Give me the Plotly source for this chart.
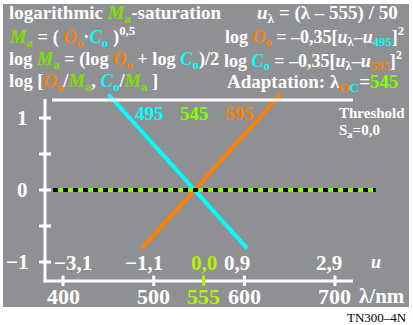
import plotly.graph_objects as go

# ---- data ----
lam_cyan = [450, 603]          # nm
log_cyan = [1.33, -0.81]       # log [C_o/M_a]
lam_orange = [487, 640]
log_orange = [-0.81, 1.33]     # log [O_o/M_a]
lam_thresh = [389, 745]
log_thresh = [0, 0]

y_ticks = [1, 0.5, 0, -0.5, -1]
y_tick_text = ["1", "", "0", "", "−1"]
lam_ticks = [400, 500, 555, 600, 700]
lam_tick_text = ["400", "500", "555", "600", "700"]
u_tick_text = ["−3,1", "−1,1", "0,0", "0,9", "2,9"]
u_label_shift = [10, -10, 0, -7, -6]
curve_lams = [495, 545, 595]
curve_text = ["495", "545", "595"]

W, H = 413, 325
GRAY = "rgb(143,144,147)"
CYAN = "#00ffff"
ORANGE = "#ff8000"
GREEN = "#7fe000"
LIME = "#80ff00"
YG = "#b8f000"
FONT = "Liberation Serif"

# pixel mapping of data axes (plot spans whole figure)
X0, KX = 63.0, 0.9065     # px of 400 nm, px per nm
Y0, KY = 190.0, 72.0      # px of 0, px per unit
xr = [400 - X0 / KX, 400 + (W - X0) / KX]
yr = [-(H - Y0) / KY, Y0 / KY]

def lam(px):
    return 400 + (px - X0) / KX

def yv(py):
    return (Y0 - py) / KY

fig = go.Figure()

fig.add_trace(go.Scatter(x=lam_orange, y=log_orange, mode="lines",
                         line=dict(color=ORANGE, width=4), hoverinfo="skip"))
fig.add_trace(go.Scatter(x=lam_cyan, y=log_cyan, mode="lines",
                         line=dict(color=CYAN, width=4), hoverinfo="skip"))
fig.add_trace(go.Scatter(x=lam_thresh, y=log_thresh, mode="lines",
                         line=dict(color="black", width=4), hoverinfo="skip"))
fig.add_trace(go.Scatter(x=lam_thresh, y=log_thresh, mode="lines",
                         line=dict(color=LIME, width=4, dash="0px,5px,5px,0px"),
                         hoverinfo="skip"))

shapes = []
# gray background
shapes.append(dict(type="rect", xref="paper", yref="paper", layer="below",
                   x0=3 / W, x1=409 / W, y0=1 - 307 / H, y1=1 - 4 / H,
                   fillcolor=GRAY, line=dict(width=0)))
WL = dict(color="white", width=3)
# frame lines
shapes.append(dict(type="line", xref="x", yref="y", x0=lam(45), x1=lam(45),
                   y0=yv(99), y1=yv(282.5), line=WL))
shapes.append(dict(type="line", xref="x", yref="y", x0=lam(52), x1=lam(353),
                   y0=yv(100), y1=yv(100), line=WL))
shapes.append(dict(type="line", xref="x", yref="y", x0=lam(43.5), x1=lam(353),
                   y0=yv(281), y1=yv(281), line=WL))
for t in y_ticks:
    shapes.append(dict(type="line", xref="x", yref="y", x0=lam(39), x1=lam(51),
                       y0=t, y1=t, line=WL))
for t in lam_ticks:
    c = YG if t == 555 else "white"
    shapes.append(dict(type="line", xref="x", yref="y", x0=t, x1=t,
                       y0=yv(275.5), y1=yv(286), line=dict(color=c, width=3)))

ann = []

def add(text, x, y, size=19, color="white", xanchor="left", xref="paper",
        yref="paper", xshift=0, yanchor="middle"):
    ann.append(dict(text=text, x=x, y=y, xref=xref, yref=yref, showarrow=False,
                    xanchor=xanchor, yanchor=yanchor, xshift=xshift,
                    font=dict(family=FONT, size=size, color=color)))

def sp(c, t):
    return f"<span style='color:{c}'>{t}</span>"

Ma = sp(GREEN, "<i>M</i><sub>a</sub>")
Oo = sp(ORANGE, "<i>O</i><sub>o</sub>")
Co = sp(CYAN, "<i>C</i><sub>o</sub>")

def P(px, py):
    return px / W, 1 - py / H

lines_left = [
    (f"<b>logarithmic {Ma}-saturation</b>", 7, 14, 19),
    (f"<b>{Ma} = ( {Oo}·{Co} )<sup>0,5</sup></b>", 7, 37, 18.5),
    (f"<b>log {Ma} = (log {Oo} + log {Co})/2</b>", 7, 60, 18.3),
    (f"<b>log [{Oo}/{Ma}, {Co}/{Ma} ]</b>", 7, 83, 18.5),
]
for t, px, py, fs in lines_left:
    x, y = P(px, py)
    add(t, x, y, size=fs)

lines_right = [
    ("<b><i>u</i><sub>λ</sub> = (λ – 555) / 50</b>", 255, 14, 19),
    (f"<b>log {Oo} = –0,35[<i>u</i><sub>λ</sub>–<i>u</i><sub>{sp(CYAN, '495')}</sub>]<sup>2</sup></b>", 223, 37, 18),
    (f"<b>log {Co} = –0,35[<i>u</i><sub>λ</sub>–<i>u</i><sub>{sp(ORANGE, '595')}</sub>]<sup>2</sup></b>", 222, 60, 18),
    (f"<b>Adaptation: λ<sub>{sp(ORANGE, 'O')}{sp(CYAN, 'C')}</sub>={sp(LIME, '545')}</b>", 225, 83, 19),
]
for t, px, py, fs in lines_right:
    x, y = P(px, py)
    add(t, x, y, size=fs)

# curve labels
for l, t, c in zip(curve_lams, curve_text, [CYAN, LIME, ORANGE]):
    add(f"<b>{t}</b>", l, yv(113), xref="x", yref="y", color=c, xanchor="center")

x, y = P(337, 113)
add("<b>Threshold</b>", x, y, size=15)
x, y = P(337, 131)
add("<b>S<sub>a</sub>=0,0</b>", x, y, size=15)

# y tick labels
for t, s in zip(y_ticks, y_tick_text):
    if s:
        add(f"<b>{s}</b>", lam(30), t, size=21, xanchor="right", xref="x", yref="y")

# u labels and lambda labels
for l, s, lt, dx in zip(lam_ticks, u_tick_text, lam_tick_text, u_label_shift):
    c = YG if l == 555 else "white"
    add(f"<b>{s}</b>", l, yv(263), size=21, color=c, xanchor="center",
        xref="x", yref="y", xshift=dx)
    add(f"<b>{lt}</b>", l, yv(296), size=22, color=c, xanchor="center",
        xref="x", yref="y")

x, y = P(376, 262)
add("<b><i>u</i></b>", x, y, size=18, xanchor="center")
x, y = P(357, 296)
add("<b>λ/nm</b>", x, y, size=21)
x, y = P(409, 317)
add("TN300–4N", x, y, size=13, color="black", xanchor="right")

fig.update_layout(
    width=W, height=H, margin=dict(l=0, r=0, t=0, b=0),
    paper_bgcolor="white", plot_bgcolor="rgba(0,0,0,0)",
    showlegend=False, shapes=shapes, annotations=ann,
    xaxis=dict(range=xr, visible=False, fixedrange=True),
    yaxis=dict(range=yr, visible=False, fixedrange=True),
)
fig.write_html("out.html", config={"displayModeBar": False},
               post_script="document.body.style.margin='0';document.body.style.overflow='hidden';")
